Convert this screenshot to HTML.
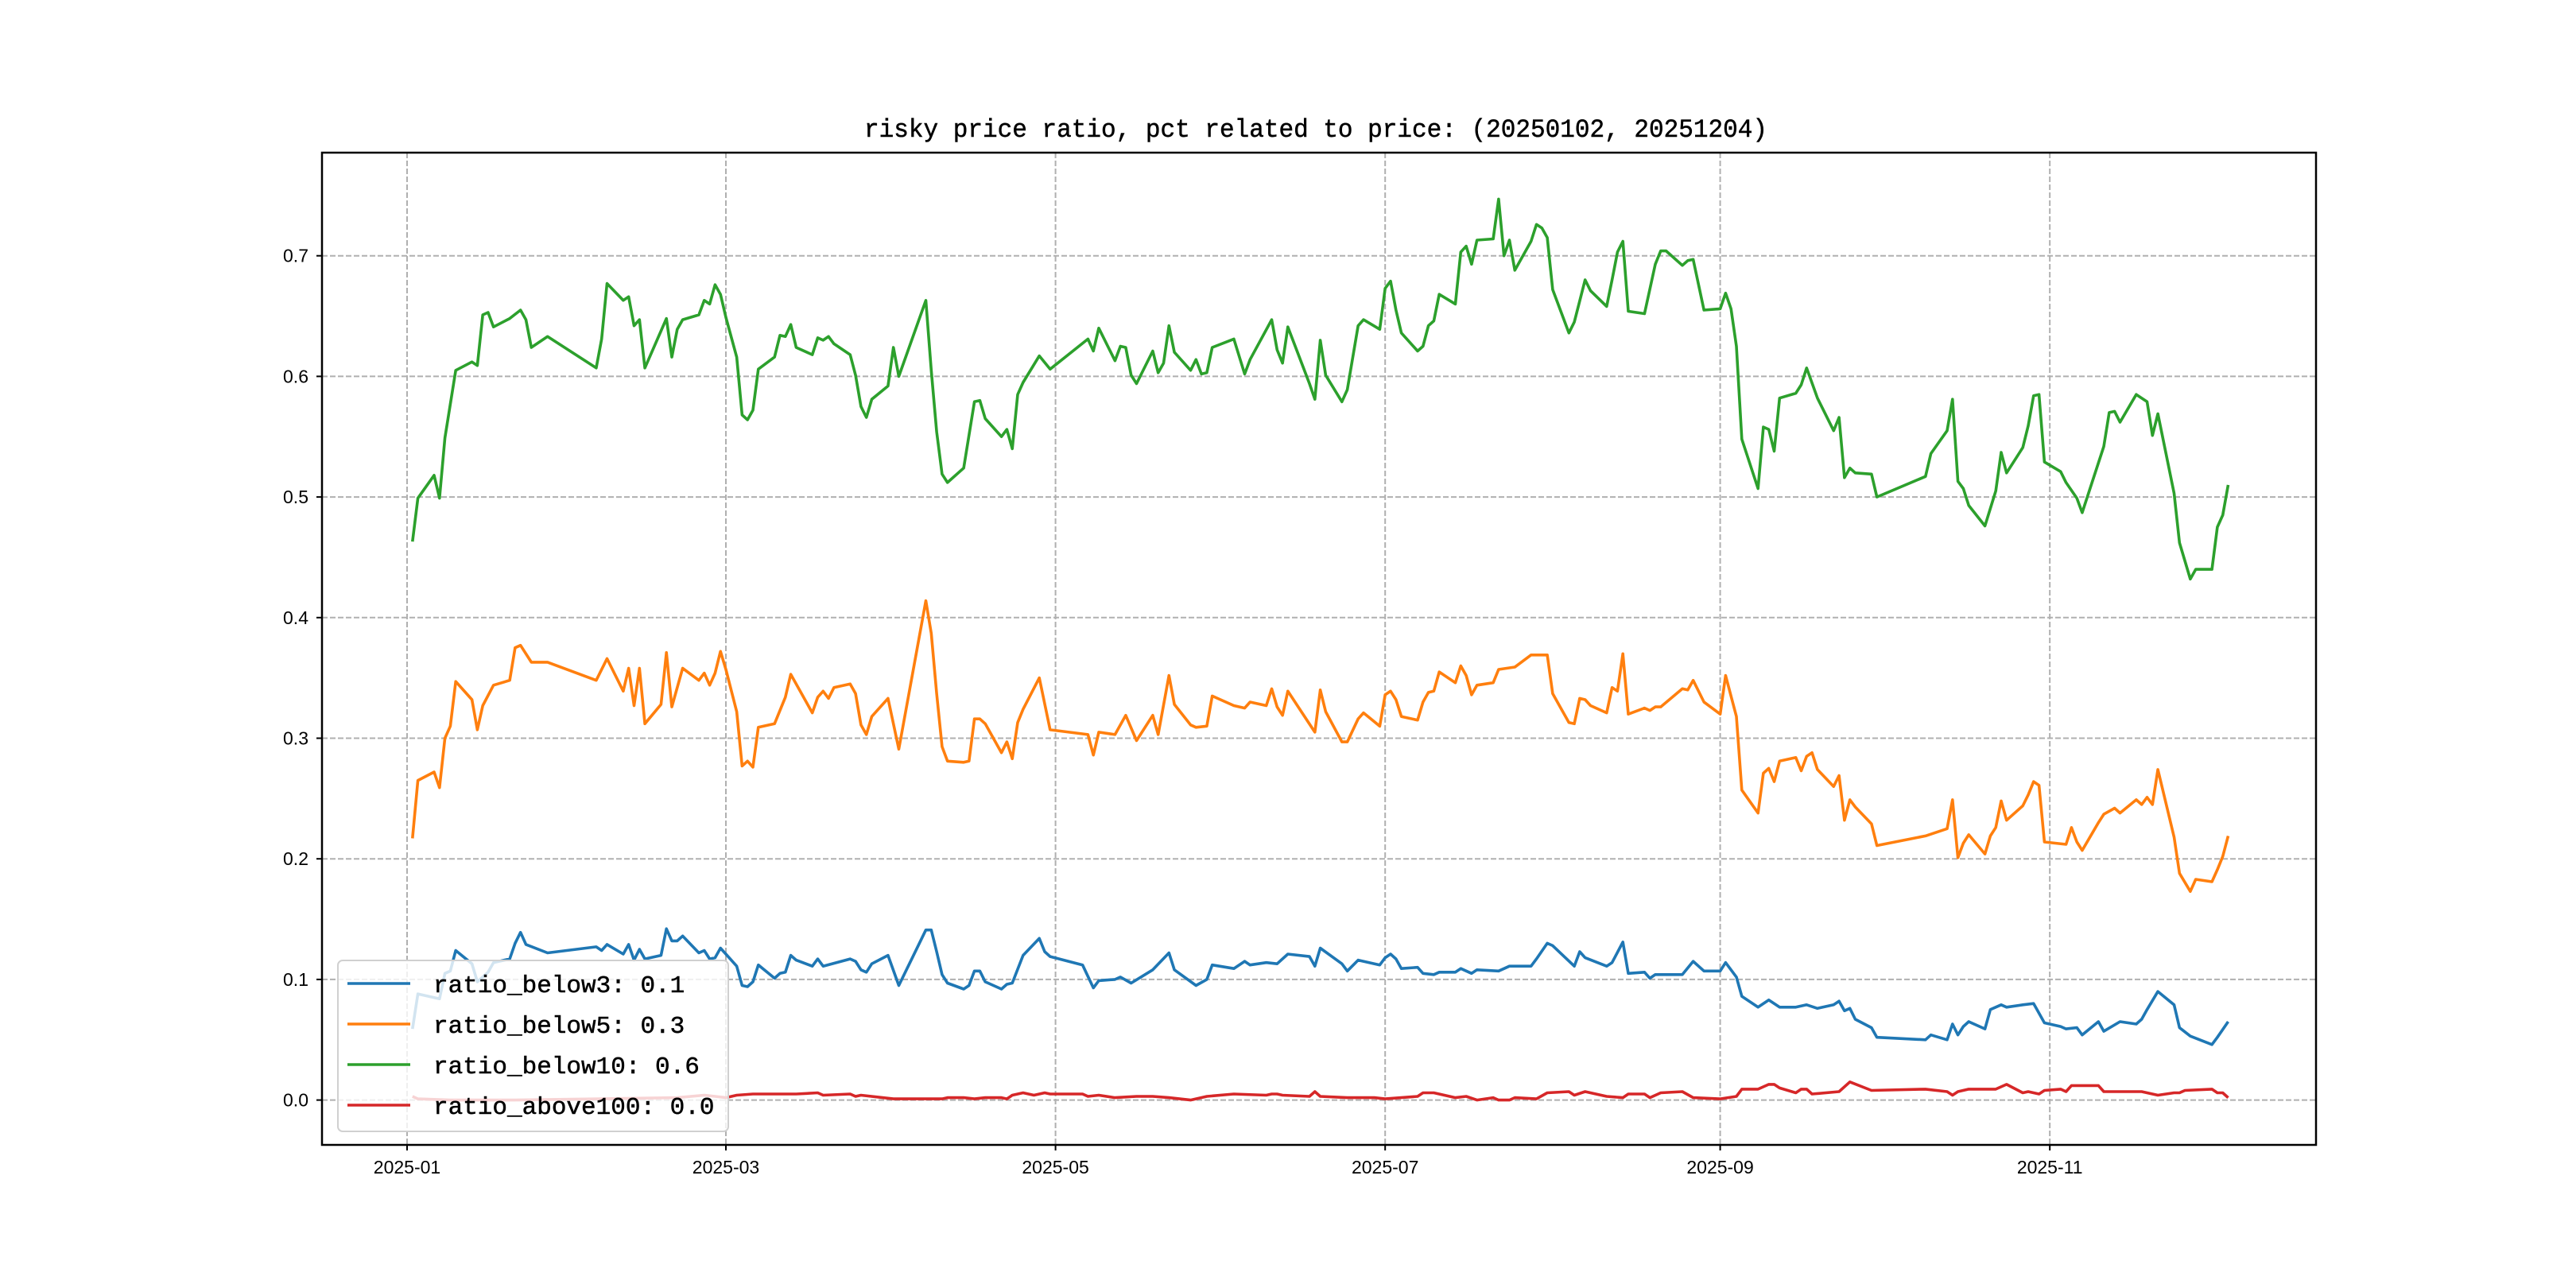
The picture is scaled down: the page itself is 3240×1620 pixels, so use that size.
<!DOCTYPE html>
<html><head><meta charset="utf-8">
<style>
html,body{margin:0;padding:0;background:#fff;}
svg{display:block;}
text{font-family:"Liberation Sans","Noto Sans CJK SC",sans-serif;fill:#000;}
.mono{font-family:"Liberation Mono","Noto Sans CJK SC",monospace;stroke:#000;stroke-width:0.5;}
</style></head>
<body>
<svg id="chart" width="3240" height="1620" viewBox="0 0 3240 1620" xmlns="http://www.w3.org/2000/svg">
<rect x="0" y="0" width="3240" height="1620" fill="#fff"/>
<g id="grid"></g>
<g id="series"></g>
<rect x="405" y="192" width="2508" height="1248" fill="none" stroke="#000" stroke-width="2.5"/>
<g id="axes"></g>
<text class="mono" x="1655" y="172" font-size="32" text-anchor="middle" textLength="1136" lengthAdjust="spacingAndGlyphs">risky price ratio, pct related to price: (20250102, 20251204)</text>
<g id="legend"></g>
</svg>
<script>
// ---- data (day index = days since 2025-01-01) ----
const xTickLabels = ["2025-01","2025-03","2025-05","2025-07","2025-09","2025-11"];
const xTickDays = [0,59,120,181,243,304];
const yTickValues = [0.0,0.1,0.2,0.3,0.4,0.5,0.6,0.7];
const yTickLabels = ["0.0","0.1","0.2","0.3","0.4","0.5","0.6","0.7"];
const seriesNames = ["ratio_below3: 0.1","ratio_below5: 0.3","ratio_below10: 0.6","ratio_above100: 0.0"];
const seriesColors = ["#1f77b4","#ff7f0e","#2ca02c","#d62728"];

const greenDays = [1,2,5,6,7,9,12,13,14,15,16,19,21,22,23,26,35,36,37,40,41,42,43,44,48,49,50,51,54,55,56,57,58,59,61,62,63,64,65,68,69,70,71,72,75,76,77,78,79,82,83,84,85,86,89,90,91,96,97,98,99,100,103,105,106,107,110,111,112,113,114,117,119,126,127,128,131,132,133,134,135,138,139,140,141,142,145,146,147,148,149,153,155,156,160,161,162,163,167,168,169,170,173,174,176,177,180,181,182,183,184,187,188,189,190,191,194,195,196,197,198,201,202,203,204,205,208,209,210,211,212,215,216,218,219,222,223,224,225,226,229,231,232,233,236,237,238,240,243,244,245,246,247,250,251,252,253,254,257,258,259,261,264,265,266,267,268,271,272,281,282,285,286,287,288,289,292,294,295,296,299,300,301,302,303,306,307,309,310,314,315,316,317,320,322,323,324,327,328,330,331,334,335,336,337];
const greenValues = [0.463,0.499,0.518,0.499,0.549,0.605,0.612,0.609,0.651,0.653,0.641,0.648,0.655,0.647,0.624,0.633,0.607,0.631,0.677,0.663,0.666,0.642,0.647,0.607,0.648,0.616,0.639,0.647,0.651,0.663,0.660,0.676,0.668,0.649,0.616,0.568,0.564,0.572,0.606,0.616,0.634,0.633,0.643,0.624,0.618,0.632,0.630,0.633,0.627,0.618,0.601,0.575,0.566,0.581,0.592,0.624,0.600,0.663,0.605,0.554,0.519,0.512,0.524,0.579,0.580,0.565,0.550,0.556,0.540,0.585,0.595,0.617,0.606,0.631,0.621,0.640,0.613,0.625,0.624,0.601,0.594,0.621,0.603,0.611,0.642,0.620,0.605,0.614,0.602,0.603,0.624,0.631,0.602,0.614,0.647,0.622,0.611,0.641,0.594,0.581,0.630,0.601,0.579,0.589,0.642,0.647,0.639,0.673,0.679,0.655,0.636,0.621,0.625,0.642,0.646,0.668,0.660,0.703,0.708,0.693,0.713,0.714,0.747,0.700,0.713,0.688,0.712,0.726,0.723,0.715,0.672,0.636,0.645,0.680,0.671,0.658,0.680,0.703,0.712,0.654,0.652,0.693,0.704,0.704,0.692,0.696,0.697,0.655,0.656,0.669,0.656,0.625,0.548,0.507,0.558,0.556,0.538,0.582,0.586,0.593,0.607,0.582,0.555,0.566,0.516,0.524,0.520,0.519,0.500,0.517,0.536,0.555,0.581,0.513,0.507,0.493,0.476,0.505,0.537,0.520,0.541,0.559,0.584,0.585,0.529,0.521,0.512,0.499,0.487,0.542,0.570,0.571,0.562,0.585,0.579,0.551,0.569,0.503,0.462,0.432,0.440,0.440,0.475,0.485,0.510];

const orangeDays = [1,2,5,6,7,8,9,12,13,14,16,19,20,21,23,26,35,37,40,41,42,43,44,47,48,49,51,54,55,56,57,58,59,61,62,63,64,65,68,70,71,75,76,77,78,79,82,83,84,85,86,89,91,96,97,98,99,100,103,104,105,106,107,110,111,112,113,114,117,119,126,127,128,131,133,135,138,139,141,142,145,146,148,149,153,155,156,159,160,161,162,163,168,169,170,173,174,176,177,180,181,182,183,184,187,188,189,190,191,194,195,196,197,198,201,202,205,208,211,212,215,216,217,218,219,222,223,224,225,226,229,230,231,232,236,237,238,240,243,244,245,246,247,250,251,252,253,254,257,258,259,260,261,264,265,266,267,268,271,272,281,285,286,287,288,289,292,293,294,295,296,299,300,301,302,303,307,308,309,310,313,314,316,317,320,321,322,323,324,327,328,330,331,334,335,336,337];
const orangeValues = [0.217,0.265,0.272,0.259,0.300,0.310,0.347,0.332,0.307,0.327,0.344,0.348,0.375,0.377,0.363,0.363,0.348,0.366,0.339,0.358,0.327,0.358,0.312,0.328,0.371,0.326,0.358,0.348,0.354,0.344,0.354,0.372,0.357,0.322,0.277,0.281,0.276,0.309,0.312,0.334,0.353,0.321,0.334,0.339,0.333,0.342,0.345,0.337,0.311,0.303,0.318,0.333,0.291,0.414,0.387,0.337,0.293,0.281,0.280,0.281,0.316,0.316,0.312,0.288,0.297,0.283,0.313,0.324,0.350,0.307,0.303,0.286,0.305,0.303,0.319,0.298,0.319,0.303,0.352,0.328,0.311,0.309,0.310,0.335,0.327,0.325,0.330,0.327,0.341,0.326,0.319,0.339,0.305,0.340,0.322,0.297,0.297,0.316,0.321,0.310,0.336,0.339,0.332,0.318,0.315,0.330,0.338,0.339,0.355,0.346,0.360,0.352,0.336,0.344,0.346,0.357,0.359,0.369,0.369,0.337,0.313,0.312,0.333,0.332,0.327,0.321,0.342,0.339,0.370,0.320,0.325,0.323,0.326,0.326,0.341,0.340,0.348,0.330,0.320,0.352,0.335,0.318,0.257,0.238,0.271,0.275,0.264,0.281,0.284,0.273,0.285,0.288,0.274,0.260,0.269,0.232,0.249,0.243,0.229,0.211,0.219,0.225,0.249,0.201,0.213,0.220,0.204,0.219,0.226,0.248,0.232,0.244,0.253,0.264,0.261,0.214,0.212,0.226,0.214,0.207,0.230,0.237,0.242,0.238,0.249,0.245,0.251,0.245,0.274,0.218,0.188,0.173,0.183,0.181,0.191,0.202,0.219];

const blueDays = [1,2,6,7,8,9,12,13,15,16,19,20,21,22,26,35,36,37,40,41,42,43,44,47,48,49,50,51,54,55,56,57,58,59,61,62,63,64,65,68,69,70,71,72,75,76,77,82,83,84,85,86,89,91,96,97,98,99,100,103,104,105,106,107,110,111,112,114,117,118,119,125,127,128,131,132,134,138,141,142,146,148,149,153,155,156,159,161,163,167,168,169,173,174,176,180,181,182,183,184,187,188,190,191,194,195,197,198,202,204,208,209,211,212,216,217,218,222,223,225,226,229,230,231,236,238,240,243,244,246,247,250,252,254,257,259,261,264,265,266,267,268,271,272,281,282,285,286,287,288,289,292,293,295,296,299,301,303,306,307,309,310,313,314,317,320,321,322,324,327,328,330,334,335,337];
const blueValues = [0.059,0.088,0.084,0.105,0.107,0.124,0.113,0.098,0.106,0.114,0.117,0.130,0.139,0.129,0.122,0.127,0.124,0.129,0.121,0.129,0.116,0.125,0.117,0.120,0.142,0.132,0.132,0.136,0.122,0.124,0.117,0.118,0.126,0.121,0.111,0.095,0.094,0.098,0.112,0.101,0.105,0.106,0.120,0.116,0.111,0.117,0.111,0.117,0.115,0.108,0.106,0.113,0.120,0.095,0.141,0.141,0.123,0.104,0.097,0.092,0.095,0.107,0.107,0.098,0.092,0.096,0.097,0.120,0.134,0.123,0.119,0.112,0.093,0.099,0.100,0.102,0.097,0.108,0.122,0.108,0.095,0.100,0.112,0.109,0.115,0.112,0.114,0.113,0.121,0.119,0.111,0.126,0.113,0.107,0.116,0.112,0.118,0.121,0.117,0.109,0.110,0.105,0.104,0.106,0.106,0.109,0.105,0.108,0.107,0.111,0.111,0.117,0.130,0.128,0.111,0.123,0.118,0.111,0.114,0.131,0.105,0.106,0.101,0.104,0.104,0.115,0.107,0.107,0.114,0.102,0.086,0.077,0.083,0.077,0.077,0.079,0.076,0.079,0.082,0.074,0.076,0.067,0.060,0.052,0.050,0.054,0.050,0.063,0.054,0.061,0.065,0.059,0.075,0.079,0.077,0.079,0.080,0.064,0.061,0.059,0.060,0.054,0.065,0.057,0.065,0.063,0.067,0.075,0.090,0.079,0.060,0.053,0.046,0.052,0.065];

const redDays = [1,2,8,20,50,55,57,59,61,64,68,72,76,77,82,83,84,90,99,100,103,105,107,110,111,112,114,116,117,118,119,125,126,128,131,135,138,141,145,148,153,159,160,161,162,167,168,169,174,179,181,187,188,190,194,196,198,201,202,204,205,209,211,215,216,218,222,225,226,229,230,232,236,238,243,246,247,250,252,253,254,257,258,259,260,265,267,271,281,285,286,287,289,294,296,299,300,302,303,306,307,308,310,313,314,316,317,321,324,327,328,329,334,335,336,337];
const redValues = [0.003,0.001,0.000,0.000,0.002,0.004,0.003,0.002,0.004,0.005,0.005,0.005,0.006,0.004,0.005,0.003,0.004,0.001,0.001,0.002,0.002,0.001,0.002,0.002,0.001,0.004,0.006,0.004,0.005,0.006,0.005,0.005,0.003,0.004,0.002,0.003,0.003,0.002,0.000,0.003,0.005,0.004,0.005,0.005,0.004,0.003,0.007,0.003,0.002,0.002,0.001,0.003,0.006,0.006,0.002,0.003,0.000,0.002,0.000,0.000,0.002,0.001,0.006,0.007,0.004,0.007,0.003,0.002,0.005,0.005,0.002,0.006,0.007,0.002,0.001,0.003,0.009,0.009,0.013,0.013,0.010,0.006,0.009,0.009,0.005,0.007,0.015,0.008,0.009,0.007,0.004,0.007,0.009,0.009,0.013,0.006,0.007,0.005,0.008,0.009,0.007,0.012,0.012,0.012,0.007,0.007,0.007,0.007,0.004,0.006,0.006,0.008,0.009,0.006,0.006,0.002];

// ---- axis functions ----
const X0=405, X1=2913, Y0=192, Y1=1440;
const xDay0=512, pxPerDay=(913-512)/59;
const yZero=1383.6, pxPerUnit=1517;
function xScale(d){return xDay0 + d*pxPerDay;}
function yScale(v){return yZero - v*pxPerUnit;}
const NS="http://www.w3.org/2000/svg";
function mk(tag){return document.createElementNS(NS,tag);}

const grid=document.getElementById('grid');
const axes=document.getElementById('axes');
for(let i=0;i<yTickValues.length;i++){
  const y=yScale(yTickValues[i]);
  const gl=mk('line');
  gl.setAttribute('x1',X0);gl.setAttribute('x2',X1);gl.setAttribute('y1',y);gl.setAttribute('y2',y);
  gl.setAttribute('stroke','#b0b0b0');gl.setAttribute('stroke-width','2');gl.setAttribute('stroke-dasharray','7,3');
  
  
  grid.appendChild(gl);
  const tk=mk('line');
  tk.setAttribute('x1',X0-7);tk.setAttribute('x2',X0);tk.setAttribute('y1',y);tk.setAttribute('y2',y);
  tk.setAttribute('stroke','#000');tk.setAttribute('stroke-width','2');
  
  
  axes.appendChild(tk);
  const t=mk('text');
  t.setAttribute('x',X0-17);t.setAttribute('y',y+8);t.setAttribute('font-size','23');t.setAttribute('text-anchor','end');
  t.textContent=yTickLabels[i];
  
  
  axes.appendChild(t);
}
for(let i=0;i<xTickDays.length;i++){
  const x=xScale(xTickDays[i]);
  const gl=mk('line');
  gl.setAttribute('x1',x);gl.setAttribute('x2',x);gl.setAttribute('y1',Y0);gl.setAttribute('y2',Y1);
  gl.setAttribute('stroke','#b0b0b0');gl.setAttribute('stroke-width','2');gl.setAttribute('stroke-dasharray','7,3');
  
  
  grid.appendChild(gl);
  const tk=mk('line');
  tk.setAttribute('x1',x);tk.setAttribute('x2',x);tk.setAttribute('y1',Y1);tk.setAttribute('y2',Y1+7);
  tk.setAttribute('stroke','#000');tk.setAttribute('stroke-width','2');
  
  
  axes.appendChild(tk);
  const t=mk('text');
  t.setAttribute('x',x);t.setAttribute('y',Y1+36);t.setAttribute('font-size','23');t.setAttribute('text-anchor','middle');
  t.textContent=xTickLabels[i];
  
  
  axes.appendChild(t);
}
const allDays=[blueDays,orangeDays,greenDays,redDays];
const allVals=[blueValues,orangeValues,greenValues,redValues];
const seriesKeys=['series-ratio-below3','series-ratio-below5','series-ratio-below10','series-ratio-above100'];
const sg=document.getElementById('series');
for(let s=0;s<4;s++){
  const pts=allDays[s].map((d,i)=>xScale(d).toFixed(1)+','+yScale(allVals[s][i]).toFixed(1)).join(' ');
  const pl=mk('polyline');
  pl.setAttribute('points',pts);pl.setAttribute('fill','none');pl.setAttribute('stroke',seriesColors[s]);
  pl.setAttribute('stroke-width','3.6');pl.setAttribute('stroke-linejoin','round');
  
  
  sg.appendChild(pl);
}
// legend
const lg=document.getElementById('legend');
const box=mk('rect');
box.setAttribute('x',425);box.setAttribute('y',1208);box.setAttribute('width',491);box.setAttribute('height',215);
box.setAttribute('rx',6);box.setAttribute('fill','rgba(255,255,255,0.8)');box.setAttribute('stroke','#d0d0d0');box.setAttribute('stroke-width','2');


lg.appendChild(box);
const legY=[1237,1288,1339,1390];
for(let s=0;s<4;s++){
  const ln=mk('line');
  ln.setAttribute('x1',437);ln.setAttribute('x2',516);ln.setAttribute('y1',legY[s]);ln.setAttribute('y2',legY[s]);
  ln.setAttribute('stroke',seriesColors[s]);ln.setAttribute('stroke-width','3.6');
  
  
  lg.appendChild(ln);
  const t=mk('text');
  t.setAttribute('class','mono');t.setAttribute('x',545);t.setAttribute('y',legY[s]+11);t.setAttribute('font-size','31');
  t.textContent=seriesNames[s];
  
  
  lg.appendChild(t);
}
</script>
</body></html>
